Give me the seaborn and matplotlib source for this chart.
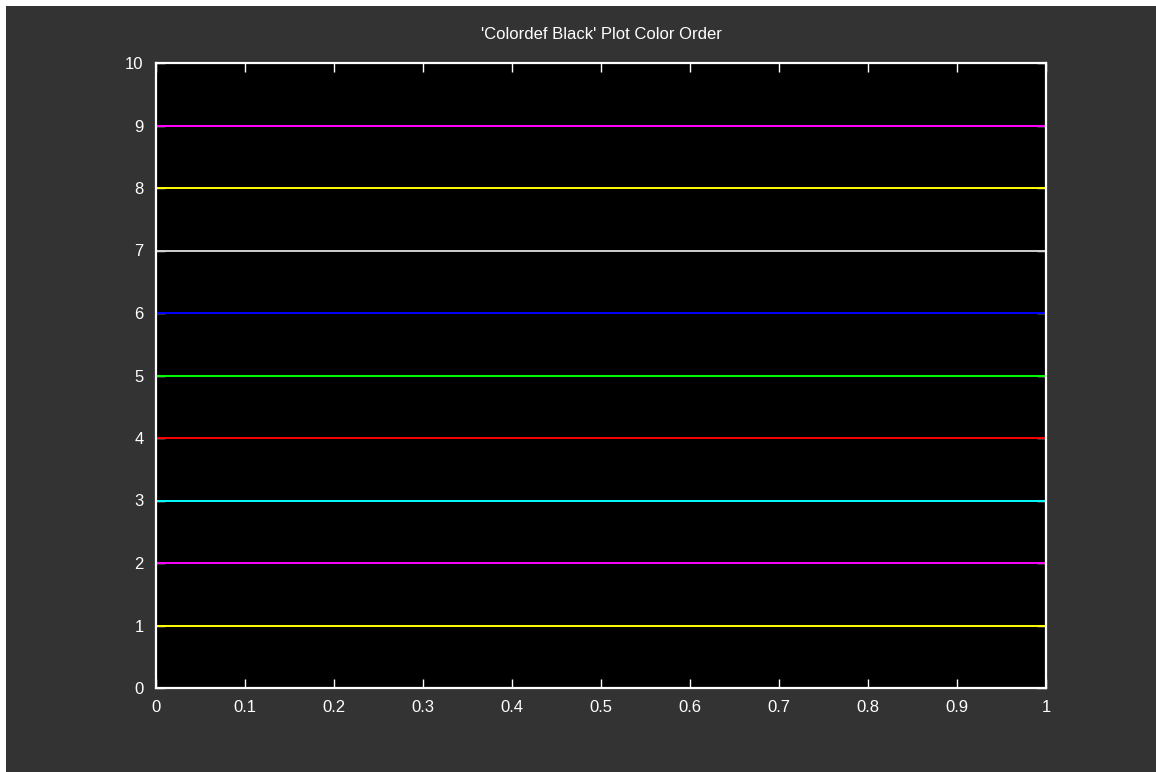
import matplotlib.pyplot as plt
import matplotlib.patches as patches
import pandas as pd
import seaborn as sns

# one horizontal line per colour in the colour order, from x = 0 to x = 1
x_ends = [0, 1]
levels = [1, 2, 3, 4, 5, 6, 7, 8, 9]
line_colors = ["#ffff00", "#ff00ff", "#00ffff", "#ff0000", "#00ff00",
               "#0000ff", "#d0d0d0", "#ffff00", "#ff00ff"]
x_ticks = [0, 0.1, 0.2, 0.3, 0.4, 0.5, 0.6, 0.7, 0.8, 0.9, 1]
x_tick_labels = ["0", "0.1", "0.2", "0.3", "0.4", "0.5", "0.6", "0.7", "0.8", "0.9", "1"]
y_ticks = [0, 1, 2, 3, 4, 5, 6, 7, 8, 9, 10]
title = "'Colordef Black' Plot Color Order"

BG = "#333333"
FG = "#ffffff"


def main():
    sns.set_theme(style="dark")
    plt.rcParams["font.family"] = ["Liberation Sans", "DejaVu Sans"]
    plt.switch_backend("Agg")

    rows = []
    for i, level in enumerate(levels):
        for x in x_ends:
            rows.append({"x": x, "y": level, "series": f"line{i}"})
    df = pd.DataFrame(rows)

    W, H = 1156, 772
    figure = plt.figure(figsize=(W / 100, H / 100), dpi=100, facecolor="white")
    # dark gray canvas, leaving the thin white strip at top and left
    figure.add_artist(patches.Rectangle((6 / W, 0), 1 - 6 / W, 1 - 6 / H,
                                        transform=figure.transFigure,
                                        facecolor=BG, edgecolor="none", zorder=-10))

    ax = figure.add_axes([156 / W, 84 / H, 890 / W, 625 / H])
    ax.set_zorder(1)
    ax.set_facecolor("black")

    sns.lineplot(data=df, x="x", y="y", hue="series", palette=line_colors,
                 legend=False, ax=ax, linewidth=1.4)

    ax.set_xlim(0, 1)
    ax.set_ylim(0, 10)
    ax.set_xticks(x_ticks)
    ax.set_xticklabels(x_tick_labels)
    ax.set_yticks(y_ticks)
    ax.set_xlabel("")
    ax.set_ylabel("")
    ax.grid(False)

    for spine in ax.spines.values():
        spine.set_visible(True)
        spine.set_color(FG)
        spine.set_linewidth(1.6)

    ax.tick_params(axis="both", which="major", direction="in", length=6.5, width=1.0,
                   color=FG, labelcolor=FG, labelsize=12, top=True, right=True,
                   bottom=True, left=True, pad=9)

    ax.set_title(title, color=FG, fontsize=12, pad=17)

    figure.savefig("out.png", dpi=100, facecolor=figure.get_facecolor())


if __name__ == "__main__":
    main()
